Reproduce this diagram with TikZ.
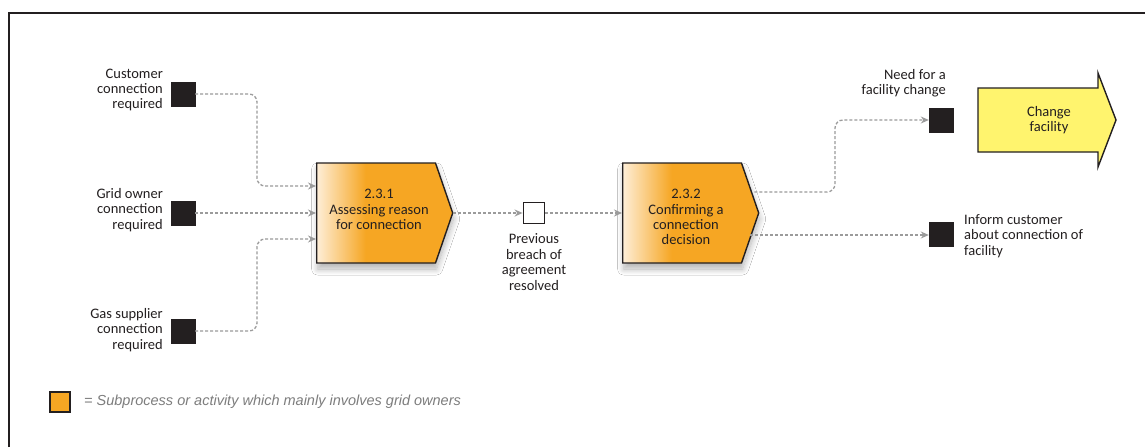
\documentclass[tikz,border=0pt]{standalone}
\usepackage{fontspec}
\setmainfont{Carlito}
\newfontfamily\legendfont{Liberation Sans}
\usetikzlibrary{shapes.symbols,arrows.meta,calc,shadows.blur}
\definecolor{procorange}{RGB}{246,166,35}
\definecolor{proclight}{RGB}{254,238,215}
\definecolor{evblack}{RGB}{35,31,32}
\definecolor{flowgrey}{RGB}{155,155,155}
\definecolor{chyellow}{RGB}{255,244,110}
\definecolor{legendgrey}{RGB}{125,125,125}
\pgfdeclarehorizontalshading{procshade}{100bp}{color(0bp)=(proclight); color(25bp)=(proclight); color(43bp)=(procorange); color(100bp)=(procorange)}
\begin{document}
\begin{tikzpicture}[x=1pt,y=-1pt,
  lbl/.style={font=\fontsize{14.5}{15.4}\selectfont, text=evblack, inner sep=0pt},
  event/.style={draw=evblack, fill=evblack, minimum size=24pt, inner sep=0pt},
  openevent/.style={draw=evblack, fill=white, line width=1.8pt, minimum size=21pt, inner sep=0pt},
  procbox/.style={signal, signal to=east, signal pointer angle=142, minimum width=136pt, minimum height=100pt, inner sep=0pt, draw=evblack, line width=1.4pt, shading=procshade, blur shadow={shadow xshift=1pt, shadow yshift=-6pt, shadow blur radius=6pt, shadow blur steps=12, shadow opacity=30}},
  proctext/.style={lbl, align=center, anchor=north},
  flow/.style={draw=flowgrey, line width=1.3pt, dash pattern=on 3pt off 2pt, rounded corners=8pt, -{Stealth[length=8pt,width=7pt,fill=flowgrey]}},
]
\useasboundingbox (0,0) rectangle (1145,447);
\fill[white] (0,0) rectangle (1145,447);
% frame
\draw[evblack, line width=1.4pt] (9,447) -- (9,13) -- (1145,13);

% start events
\node[event] (e1) at (183,94) {};
\node[event] (e2) at (183,213) {};
\node[event] (e3) at (183,331) {};
\node[lbl, align=right, anchor=east] (l1) at (163,90) {Customer\\connection\\required};
\node[lbl, align=right, anchor=east] (l2) at (163,210) {Grid owner\\connection\\required};
\node[lbl, align=right, anchor=east] (l3) at (163,330) {Gas supplier\\connection\\required};

% processes
\node[procbox, anchor=west] (p1) at (316,213) {};
\node[procbox, anchor=west] (p2) at (622,213) {};
\node[proctext] (t1) at (379,189) {2.3.1\\Assessing reason\\for connection};
\node[proctext] (t2) at (686,189) {2.3.2\\Confirming a\\connection\\decision};

% intermediate event
\node[openevent] (e4) at (534,213) {};
\node[lbl, align=center] (l4) at (534,262) {Previous\\breach of\\agreement\\resolved};

% end events
\node[event] (e5) at (941,120) {};
\node[event] (e6) at (941,234) {};
\node[lbl, align=right, anchor=east] (l5) at (946,83) {Need for a\\facility change};
\node[lbl, align=left, anchor=west] (l6) at (964,236) {Inform customer\\about connection of\\facility};

% change facility arrow
\draw[evblack, line width=1.4pt, fill=chyellow]
  (978,88) -- (1098,88) -- (1098,73) -- (1116,120) -- (1098,167) -- (1098,152) -- (978,152) -- cycle;
\node[lbl, align=center] (cf) at (1049,120) {Change\\facility};

% flows
\draw[flow] (e1.east) -- (257,94) -- (257,186) -- (p1.west |- 0,186);
\draw[flow] (e2.east) -- (p1.west);
\draw[flow] (e3.east) -- (257,331) -- (257,239) -- (p1.west |- 0,239);
\draw[flow] (p1.east) -- (e4.west);
\draw[flow] (e4.east) -- (p2.west);
\draw[flow] ($(p2.east)+(-5,-21)$) -- (835,192) -- (835,120) -- (e5.west);
\draw[flow] ($(p2.east)+(-9,22)$) -- (e6.west |- 0,235);

% legend
\node[draw=evblack, fill=procorange, line width=1.2pt, minimum size=20pt, inner sep=0pt] (lg) at (60,402) {};
\node[anchor=west, inner sep=0pt, font=\legendfont\itshape\fontsize{14.5}{16}\selectfont, text=legendgrey] (lgt) at (84,402) {= Subprocess or activity which mainly involves grid owners};
\end{tikzpicture}
\end{document}
